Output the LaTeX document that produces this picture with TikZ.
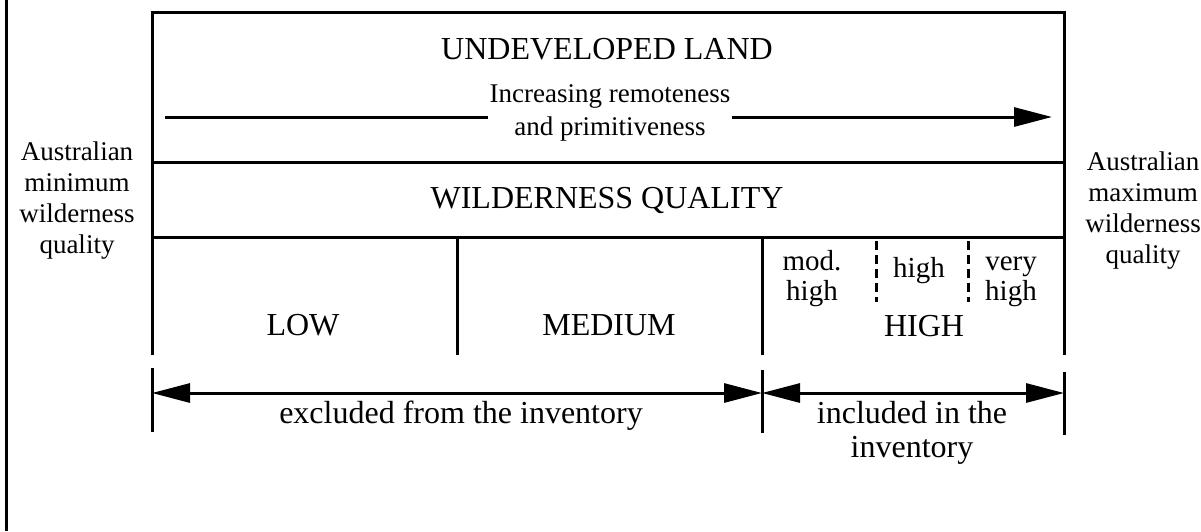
\documentclass[tikz,border=0pt]{standalone}
\usepackage{fontspec}
\setmainfont{Liberation Serif}
\usetikzlibrary{arrows.meta}
\tikzset{bigtri/.tip={Triangle[length=38pt,width=19pt]}}
\begin{document}
\begin{tikzpicture}[x=1pt,y=-1pt,
  line width=3pt,
  big/.style={font=\fontsize{32}{34}\selectfont, inner sep=0pt, anchor=base, align=center},
  small/.style={font=\fontsize{27}{31}\selectfont, inner sep=0pt, anchor=base, align=center},
  mid/.style={font=\fontsize{29}{30}\selectfont, inner sep=0pt, anchor=base, align=center},
  subdiv/.style={dash pattern=on 9pt off 5pt},
  ]
\useasboundingbox (0,0) rectangle (1201,531);

% margin rule
\draw (6,0) -- (6,531);

% frame of the table
\draw (152,355) -- (152,12) -- (1064,12) -- (1064,355);
\draw (152,162) -- (1064,162);
\draw (152,237) -- (1064,237);
\draw (457,237) -- (457,355);
\draw (762,237) -- (762,355);
\draw[subdiv] (876,241) -- (876,302);
\draw[subdiv] (968,241) -- (968,302);

% headings
\node[big] (land) at (607,59) {UNDEVELOPED LAND};
\node[big] (wq) at (607,208) {WILDERNESS QUALITY};

% gradient arrow
\node[small, font=\fontsize{27}{33}\selectfont] (inc) at (610,135) {Increasing remoteness\\and primitiveness};
\coordinate (arL) at (165,117);
\coordinate (arR) at (1052,117);
\draw (arL) -- (arL -| inc.west);
\draw[-bigtri] (arR -| inc.east) -- (arR);

% quality classes
\node[big] (low) at (303,335) {LOW};
\node[big] (med) at (609,335) {MEDIUM};
\node[big] (high) at (924,336) {HIGH};
\node[mid] (modh) at (812,300) {mod.\\high};
\node[mid] (hi) at (919,277) {high};
\node[mid] (vh) at (1011,300) {very\\high};

% side labels
\node[small] (amin) at (77,253) {Australian\\minimum\\wilderness\\quality};
\node[small] (amax) at (1143,263) {Australian\\maximum\\wilderness\\quality};

% inventory ticks and ranges
\coordinate (k1) at (152,393);
\coordinate (k2) at (762,393);
\coordinate (k3) at (1064,393);
\draw ([yshift=25pt]k1) -- ([yshift=-39pt]k1);
\draw ([yshift=23pt]k2) -- ([yshift=-40pt]k2);
\draw ([yshift=21pt]k3) -- ([yshift=-42pt]k3);
\draw[bigtri-bigtri] (k1) -- (k2);
\draw[bigtri-bigtri] (k2) -- (k3);
\node[big] (exc) at (461,423) {excluded from the inventory};
\node[big] (inc2) at (912,457) {included in the\\inventory};
\end{tikzpicture}
\end{document}
